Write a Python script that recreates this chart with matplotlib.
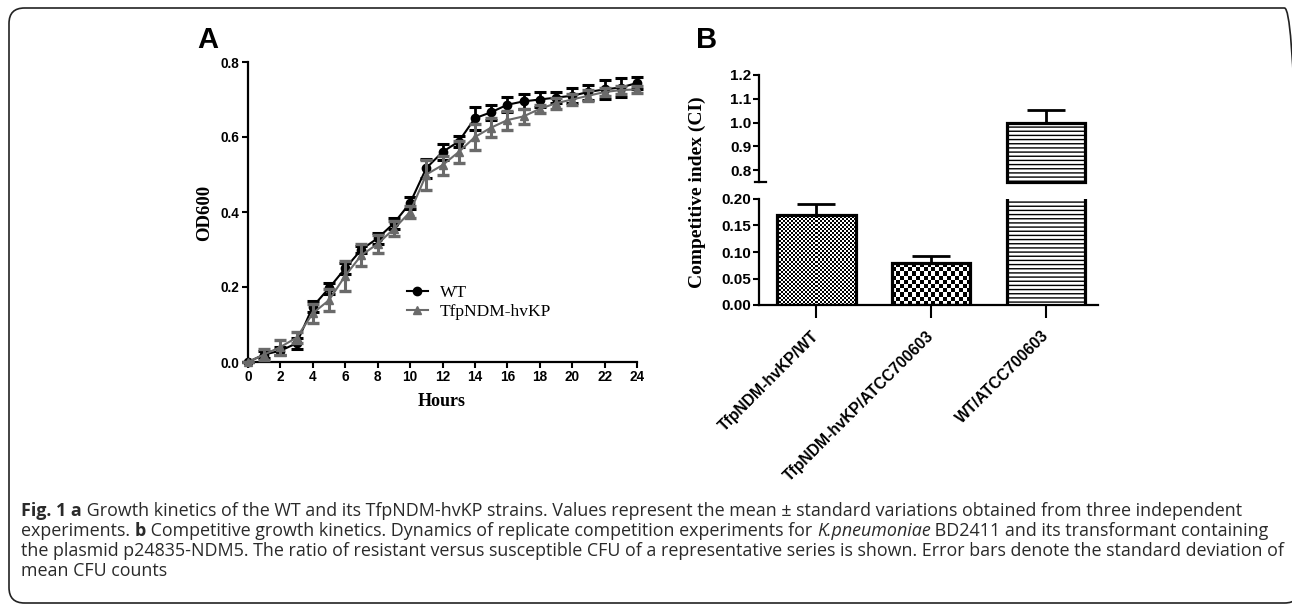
import numpy as np
import matplotlib
matplotlib.use("Agg")
import matplotlib.pyplot as plt
from matplotlib.patches import FancyBboxPatch

# ---------------- data ----------------
hours = list(range(25))
wt_mean = [0.0, 0.02, 0.03, 0.05, 0.148, 0.197, 0.25, 0.30, 0.33, 0.37, 0.424, 0.517,
           0.56, 0.588, 0.65, 0.666, 0.686, 0.695, 0.70, 0.705, 0.71, 0.72, 0.727, 0.732, 0.744]
wt_err = [0.0, 0.01, 0.01, 0.015, 0.015, 0.015, 0.015, 0.01, 0.015, 0.015, 0.015, 0.025,
          0.02, 0.015, 0.03, 0.02, 0.02, 0.02, 0.02, 0.015, 0.02, 0.02, 0.025, 0.025, 0.015]
tf_mean = [0.0, 0.02, 0.04, 0.065, 0.13, 0.165, 0.23, 0.285, 0.315, 0.355, 0.40, 0.50,
           0.525, 0.56, 0.60, 0.625, 0.645, 0.655, 0.675, 0.69, 0.70, 0.71, 0.72, 0.725, 0.727]
tf_err = [0.0, 0.015, 0.02, 0.015, 0.025, 0.03, 0.04, 0.03, 0.025, 0.02, 0.015, 0.04,
          0.025, 0.03, 0.035, 0.025, 0.025, 0.02, 0.01, 0.015, 0.015, 0.015, 0.01, 0.01, 0.01]
series_labels = ["WT", "TfpNDM-hvKP"]

ci_categories = ["TfpNDM-hvKP/WT", "TfpNDM-hvKP/ATCC700603", "WT/ATCC700603"]
ci_values = [0.17, 0.079, 1.0]
ci_err = [0.02, 0.013, 0.053]

caption_lines = [
    [("Fig. 1 a", "bold", "normal"),
     (" Growth kinetics of the WT and its TfpNDM-hvKP strains. Values represent the mean \u00b1 standard variations obtained from three independent", "normal", "normal")],
    [("experiments. ", "normal", "normal"), ("b", "bold", "normal"),
     (" Competitive growth kinetics. Dynamics of replicate competition experiments for ", "normal", "normal"),
     ("K.pneumoniae", "normal", "italic"),
     (" BD2411 and its transformant containing", "normal", "normal")],
    [("the plasmid p24835-NDM5. The ratio of resistant versus susceptible CFU of a representative series is shown. Error bars denote the standard deviation of", "normal", "normal")],
    [("mean CFU counts", "normal", "normal")],
]

# ---------------- figure ----------------
W, H = 1292, 605
fig = plt.figure(figsize=(W / 100, H / 100), dpi=100)
fig.patch.set_facecolor("white")

def px_axes(l, t, r, b):
    return fig.add_axes([l / W, 1 - b / H, (r - l) / W, (b - t) / H])

SANS = "Liberation Sans"
SERIF = "Liberation Serif"

# border
border = FancyBboxPatch((9 / W, 1 - 603 / H), (1300 - 9) / W, (603 - 8) / H,
                        boxstyle="round,pad=0,rounding_size=0.012",
                        transform=fig.transFigure, fill=False, edgecolor="#222222",
                        linewidth=1.2, mutation_aspect=W / H)
fig.patches.append(border)

# ---------------- panel A ----------------
axA = px_axes(248, 62, 637, 362)
axA.errorbar(hours, wt_mean, yerr=wt_err, color="black", marker="o", ms=6, lw=1.5,
             elinewidth=2, capsize=4, capthick=2.2, clip_on=False, zorder=3)
axA.errorbar(hours, tf_mean, yerr=tf_err, color="#6a6a6a", marker="^", ms=6, lw=1.5,
             elinewidth=2.2, capsize=4, capthick=2.4, clip_on=False, zorder=4)
hA1, = axA.plot([], [], color="black", marker="o", ms=6, lw=1.5)
hA2, = axA.plot([], [], color="#6a6a6a", marker="^", ms=6, lw=1.5)
axA.set_xlim(0, 24)
axA.set_ylim(0, 0.8)
axA.set_xticks(range(0, 25, 2))
axA.set_yticks([0, 0.2, 0.4, 0.6, 0.8])
axA.set_yticklabels([f"{v:.1f}" for v in [0, 0.2, 0.4, 0.6, 0.8]])
for s in ["top", "right"]:
    axA.spines[s].set_visible(False)
for s in ["left", "bottom"]:
    axA.spines[s].set_linewidth(1.6)
axA.tick_params(direction="out", length=4, width=1.5, pad=2)
for lab in axA.get_xticklabels() + axA.get_yticklabels():
    lab.set_fontfamily(SANS); lab.set_fontweight("bold"); lab.set_fontsize(9.8)
leg = axA.legend([hA1, hA2], series_labels, loc="upper left",
                 bbox_to_anchor=((407 - 248) / 389, (362 - 285) / 300),
                 frameon=False, borderpad=0, borderaxespad=0, handlelength=1.2,
                 handletextpad=0.7, labelspacing=0.18,
                 prop={"family": SERIF, "size": 12.5})
fig.text(442 / W, 1 - 402 / H, "Hours", family=SERIF, weight="bold", fontsize=13,
         ha="center", va="center")
fig.text(205 / W, 1 - 213 / H, "OD600", family=SERIF, weight="bold", fontsize=13.5,
         ha="center", va="center", rotation=90)
fig.text(197 / W, 1 - 48 / H, "A", family=SANS, weight="bold", fontsize=21, va="baseline")
fig.text(696 / W, 1 - 48 / H, "B", family=SANS, weight="bold", fontsize=21, va="baseline")

# ---------------- panel B ----------------
axU = px_axes(759, 75, 1098, 182)
axL = px_axes(759, 199, 1098, 305)
xpos = np.arange(len(ci_categories))
bw = 0.68
U_LO, U_HI = 0.75, 1.2
for ax in (axU, axL):
    ax.set_xlim(-0.5, 2.45)
axU.set_ylim(U_LO, U_HI)
axL.set_ylim(0, 0.2)

hatches = [None, None, "----"]
bars = axL.bar(xpos, ci_values, bw, facecolor="white", edgecolor="black",
               linewidth=2.3, zorder=3)
for b, h in zip(bars, hatches):
    if h is None:
        b.set_facecolor("none")
    else:
        b.set_hatch(h)
axL.errorbar(xpos, ci_values, yerr=[np.zeros(3), ci_err], fmt="none", ecolor="black",
             elinewidth=2, capsize=14, capthick=2, zorder=2)

for i, v in enumerate(ci_values):
    if v > U_LO:
        bu = axU.bar(xpos[i], v - U_LO, bw, bottom=U_LO, facecolor="white",
                     edgecolor="black", linewidth=2.3, zorder=3, clip_on=False)
        if hatches[i]:
            bu[0].set_hatch(hatches[i])
axU.errorbar(xpos, ci_values, yerr=[np.zeros(3), ci_err], fmt="none", ecolor="black",
             elinewidth=2, capsize=14, capthick=2, zorder=2)

# checker fills for first two bars
fig.canvas.draw()
cells = [2.0, 4.0]
for i, c in enumerate(cells):
    b = bars[i]
    x0, y0 = b.get_x(), b.get_y()
    x1, y1 = x0 + b.get_width(), y0 + b.get_height()
    p0 = axL.transData.transform((x0, y0))
    p1 = axL.transData.transform((x1, y1))
    nx = max(1, int(round(abs(p1[0] - p0[0]) / c)))
    ny = max(1, int(round(abs(p1[1] - p0[1]) / c)))
    jj, ii = np.meshgrid(np.arange(nx), np.arange(ny))
    pat = ((ii + jj) % 2).astype(float)
    im = axL.imshow(pat, extent=(x0, x1, y0, y1), cmap="gray", vmin=0, vmax=1,
                    interpolation="nearest", aspect="auto", zorder=1.5, origin="lower")
    im.set_clip_path(b)
axL.set_xlim(-0.5, 2.45)
axL.set_ylim(0, 0.2)

axU.set_yticks([0.8, 0.9, 1.0, 1.1, 1.2])
axU.set_yticklabels([f"{v:.1f}" for v in [0.8, 0.9, 1.0, 1.1, 1.2]])
axU.set_xticks([])
for s in ["top", "right", "bottom"]:
    axU.spines[s].set_visible(False)
axU.spines["left"].set_linewidth(1.6)
axU.plot([-0.012, 0.02], [0, 0], transform=axU.transAxes, color="black", lw=1.6,
         clip_on=False)

axL.set_yticks([0, 0.05, 0.10, 0.15, 0.20])
axL.set_yticklabels([f"{v:.2f}" for v in [0, 0.05, 0.10, 0.15, 0.20]])
axL.set_xticks(xpos)
axL.set_xticklabels(ci_categories, rotation=45, ha="right", va="center",
                    rotation_mode="anchor")
for s in ["top", "right"]:
    axL.spines[s].set_visible(False)
for s in ["left", "bottom"]:
    axL.spines[s].set_linewidth(1.6)
for ax in (axU, axL):
    ax.tick_params(axis="y", direction="out", length=4, width=1.5, pad=1.5)
    for lab in ax.get_yticklabels():
        lab.set_fontfamily(SANS); lab.set_fontweight("bold"); lab.set_fontsize(11)
axL.tick_params(axis="x", direction="out", length=9.5, width=1.5, pad=11)
for lab in axL.get_xticklabels():
    lab.set_fontfamily(SANS); lab.set_fontweight("bold"); lab.set_fontsize(11.3)

fig.text(697 / W, 1 - 192 / H, "Competitive index (CI)", family=SERIF, weight="bold",
         fontsize=14, ha="center", va="center", rotation=90)

# ---------------- caption ----------------
renderer = fig.canvas.get_renderer()
CAP = "Open Sans"
cap_size = 12.85
line_y = [511, 531, 551, 571]
for pieces, yc in zip(caption_lines, line_y):
    x = 21.0
    for txt, wgt, sty in pieces:
        t = fig.text(x / W, 1 - yc / H, txt, family=CAP, weight=wgt, style=sty,
                     fontsize=cap_size, color="#2a2a2a", ha="left", va="center")
        bb = t.get_window_extent(renderer=renderer)
        x += bb.width

fig.savefig("out.png", dpi=100, facecolor="white")
